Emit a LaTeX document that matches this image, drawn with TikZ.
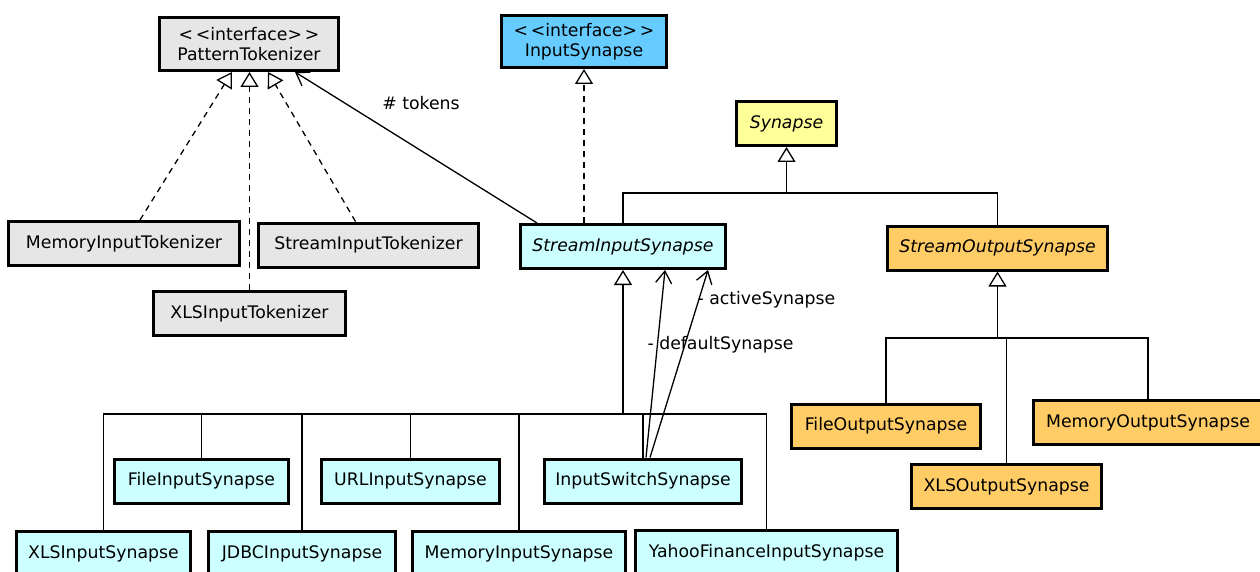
\documentclass[tikz,border=0pt]{standalone}
\usepackage{fontspec}
\setmainfont{DejaVu Sans}
\usepackage{xcolor}
\usepackage{tikz}
\usetikzlibrary{calc,arrows.meta}

\definecolor{tokgray}{HTML}{E6E6E6}
\definecolor{ifblue}{HTML}{66CCFF}
\definecolor{synyellow}{HTML}{FFFF99}
\definecolor{incyan}{HTML}{CCFFFF}
\definecolor{outorange}{HTML}{FFCC66}

\begin{document}
\begin{tikzpicture}
    [%%%%%%%%%%%%%%%%%%%%%%%%%%%%%%
        x=1pt,y=-1pt,
        every node/.style={font=\fontsize{17.3}{20.5}\selectfont},
        cls/.style={draw=black, line width=3pt, minimum height=44pt, inner sep=0pt},
        gen/.style={line width=1.3pt, -{Triangle[open,length=15pt,width=18pt]}},
        real/.style={gen, dash pattern=on 6pt off 5pt},
        assoc/.style={line width=1.3pt, -{Straight Barb[length=12pt,width=16pt]}},
        link/.style={line width=1.3pt},
    ]%%%%%%%%%%%%%%%%%%%%%%%%%%%%%%

\useasboundingbox (0,0) rectangle (1260,572);

% interfaces and base classes
\node[cls, fill=tokgray, minimum width=179pt, minimum height=53pt, align=center] (pt) at (249,44) {{<}\,{<}interface{>}\,{>}\\PatternTokenizer};
\node[cls, fill=ifblue, minimum width=165pt, minimum height=52pt, align=center] (isyn) at (584,41.5) {{<}\,{<}interface{>}\,{>}\\InputSynapse};
\node[cls, fill=synyellow, minimum width=100pt] (syn) at (786.5,123.5) {\itshape Synapse};
\node[cls, fill=incyan, minimum width=205pt] (sis) at (623,246.5) {\itshape StreamInputSynapse};
\node[cls, fill=outorange, minimum width=220pt] (sos) at (997.5,248) {\itshape StreamOutputSynapse};

% tokenizers
\node[cls, fill=tokgray, minimum width=231pt] (mit) at (124,243.5) {MemoryInputTokenizer};
\node[cls, fill=tokgray, minimum width=220pt] (sit) at (368.5,245) {StreamInputTokenizer};
\node[cls, fill=tokgray, minimum width=192pt] (xit) at (249.5,313.5) {XLSInputTokenizer};

% input synapses
\foreach \n/\x/\y/\w/\t in {xlsin/103.5/553.5/174/XLSInputSynapse,
	filein/201.5/481/174/FileInputSynapse,
	jdbcin/302/553.5/187/JDBCInputSynapse,
	urlin/410.5/481/178/URLInputSynapse,
	memin/519/553.5/213/MemoryInputSynapse,
	iss/643/481/197/InputSwitchSynapse,
	yahooin/766.5/552.5/262/YahooFinanceInputSynapse}{
	\node[cls, fill=incyan, minimum width=\w pt] (\n) at (\x,\y) {\t};
}

% output synapses
\foreach \n/\x/\y/\w/\t in {fos/886/426/189/FileOutputSynapse,
	mos/1148/422.5/229/MemoryOutputSynapse,
	xos/1006.5/486.5/190/XLSOutputSynapse}{
	\node[cls, fill=outorange, minimum width=\w pt] (\n) at (\x,\y) {\t};
}

% realizations
\draw[real] ([xshift=16pt]mit.north) -- ([xshift=-17pt]pt.south);
\draw[real] (xit.north) -- (xit.north |- pt.south);
\draw[real] ([xshift=-13pt]sit.north) -- ([xshift=19pt]pt.south);
\draw[real] (sis.north -| isyn.south) -- (isyn.south);

% generalizations
\coordinate (sbar) at (786.5,193);
\draw[gen] (sbar) -- (syn.south);
\foreach \n in {sis,sos}{
	\draw[link] (\n.north) |- (sbar);
}

\coordinate (ibar) at (623,414);
\draw[gen] (ibar) -- (sis.south);
\foreach \n in {xlsin,filein,jdbcin,urlin,memin,iss,yahooin}{
	\draw[link] (\n.north) |- (ibar);
}

\coordinate (obar) at (997.5,338);
\draw[gen] (obar) -- (sos.south);
\foreach \n in {fos,xos,mos}{
	\draw[link] (\n.north) |- (obar);
}

% associations
\draw[assoc] ([xshift=-86pt]sis.north) -- ([xshift=46pt]pt.south);
\node (tok) at (421,103) {\# tokens};
\draw[assoc] ([xshift=3pt]iss.north) -- ([xshift=42pt]sis.south);
\draw[assoc] ([xshift=7pt]iss.north) -- ([xshift=85pt]sis.south);
\node[anchor=west] (act) at (694,300) {- activeSynapse};
\node[anchor=west] (def) at (644,345) {- defaultSynapse};

\end{tikzpicture}
\end{document}
